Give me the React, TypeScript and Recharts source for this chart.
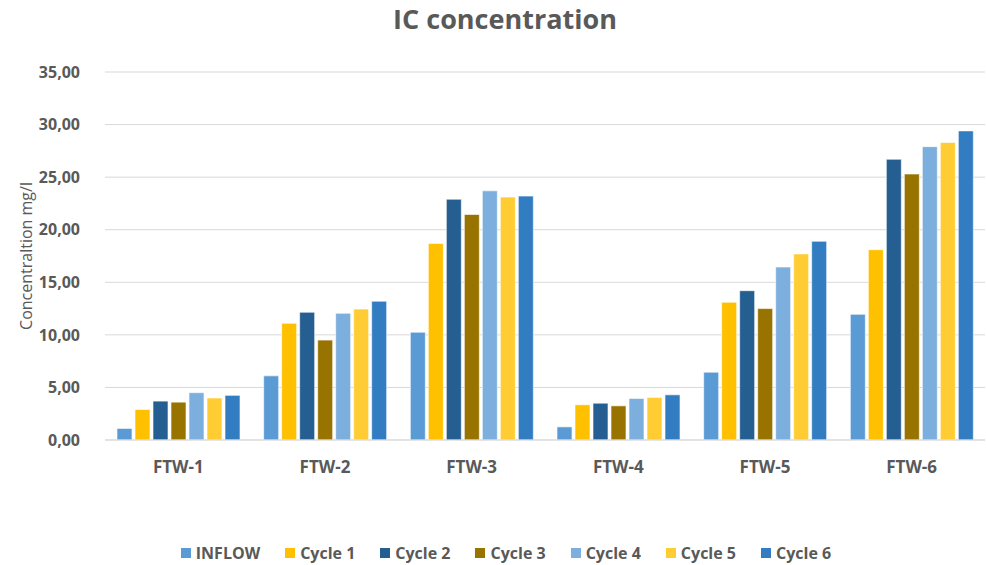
import React from 'react';
import { BarChart, Bar, XAxis, YAxis, CartesianGrid, Legend } from 'recharts';

const categories = ['FTW-1', 'FTW-2', 'FTW-3', 'FTW-4', 'FTW-5', 'FTW-6'];
const inflow = [1.1, 6.1, 10.25, 1.25, 6.45, 11.95];
const cycle1 = [2.9, 11.1, 18.7, 3.35, 13.1, 18.1];
const cycle2 = [3.7, 12.15, 22.9, 3.5, 14.2, 26.7];
const cycle3 = [3.6, 9.5, 21.45, 3.25, 12.5, 25.3];
const cycle4 = [4.5, 12.05, 23.7, 3.95, 16.45, 27.9];
const cycle5 = [4.0, 12.45, 23.1, 4.05, 17.7, 28.3];
const cycle6 = [4.25, 13.2, 23.2, 4.3, 18.9, 29.4];
const yTicks = [0, 5, 10, 15, 20, 25, 30, 35];

const series = [
  { key: 'INFLOW', values: inflow, color: '#5B9BD5' },
  { key: 'Cycle 1', values: cycle1, color: '#FFC000' },
  { key: 'Cycle 2', values: cycle2, color: '#255E91' },
  { key: 'Cycle 3', values: cycle3, color: '#997300' },
  { key: 'Cycle 4', values: cycle4, color: '#7CAFDD' },
  { key: 'Cycle 5', values: cycle5, color: '#FFCD33' },
  { key: 'Cycle 6', values: cycle6, color: '#327DC2' },
];

const data = categories.map((name, i) => {
  const row: Record<string, any> = { name };
  series.forEach(s => { row[s.key] = s.values[i]; });
  return row;
});

const font = '"Open Sans", sans-serif';
const grey = '#595959';

const fmt = (v: number) => v.toFixed(2).replace('.', ',');

const LegendContent = () => (
  <div style={{ display: 'flex', justifyContent: 'center', alignItems: 'center', gap: 25, fontFamily: font, fontWeight: 700, fontSize: 16, color: grey, paddingLeft: 26, paddingTop: 2 }}>
    {series.map(s => (
      <div key={s.key} style={{ display: 'flex', alignItems: 'center', gap: 5 }}>
        <span style={{ width: 10, height: 10, background: s.color, display: 'inline-block' }} />
        <span>{s.key}</span>
      </div>
    ))}
  </div>
);

export default function App() {
  return (
    <div style={{ position: 'absolute', left: 0, top: 0, width: 986, height: 565, background: '#fff' }}>
      <div style={{ position: 'absolute', top: 0, left: 12, width: 986, textAlign: 'center', fontFamily: font, fontWeight: 700, fontSize: 27, color: grey }}>
        IC concentration
      </div>
      <BarChart
        width={986}
        height={565}
        data={data}
        margin={{ top: 72, right: 1, left: 0, bottom: 39 }}
        barCategoryGap={12}
        barGap={3}
      >
        <CartesianGrid vertical={false} stroke="#d9d9d9" strokeWidth={1} />
        <XAxis
          dataKey="name"
          height={60}
          axisLine={{ stroke: '#d9d9d9' }}
          tickLine={false}
          tickSize={0}
          tickMargin={21}
          tick={{ fontFamily: font, fontWeight: 700, fontSize: 17, fill: grey }}
        />
        <YAxis
          width={105}
          domain={[0, 35]}
          ticks={yTicks}
          interval={0}
          axisLine={false}
          tickLine={false}
          tickSize={0}
          tickMargin={25}
          tickFormatter={fmt}
          tick={{ fontFamily: font, fontWeight: 700, fontSize: 16, fill: grey }}
          label={{ value: 'Concentraltion mg/l', angle: -90, position: 'insideLeft', offset: 26, style: { fontFamily: font, fontSize: 16, fill: grey, textAnchor: 'middle' } }}
        />
        <Legend content={<LegendContent />} wrapperStyle={{ top: 540, left: 0, width: 986, height: 26 }} />
        {series.map(s => (
          <Bar key={s.key} dataKey={s.key} fill={s.color} stroke="#ffffff" strokeOpacity={0.6} strokeWidth={1} isAnimationActive={false} />
        ))}
      </BarChart>
    </div>
  );
}
